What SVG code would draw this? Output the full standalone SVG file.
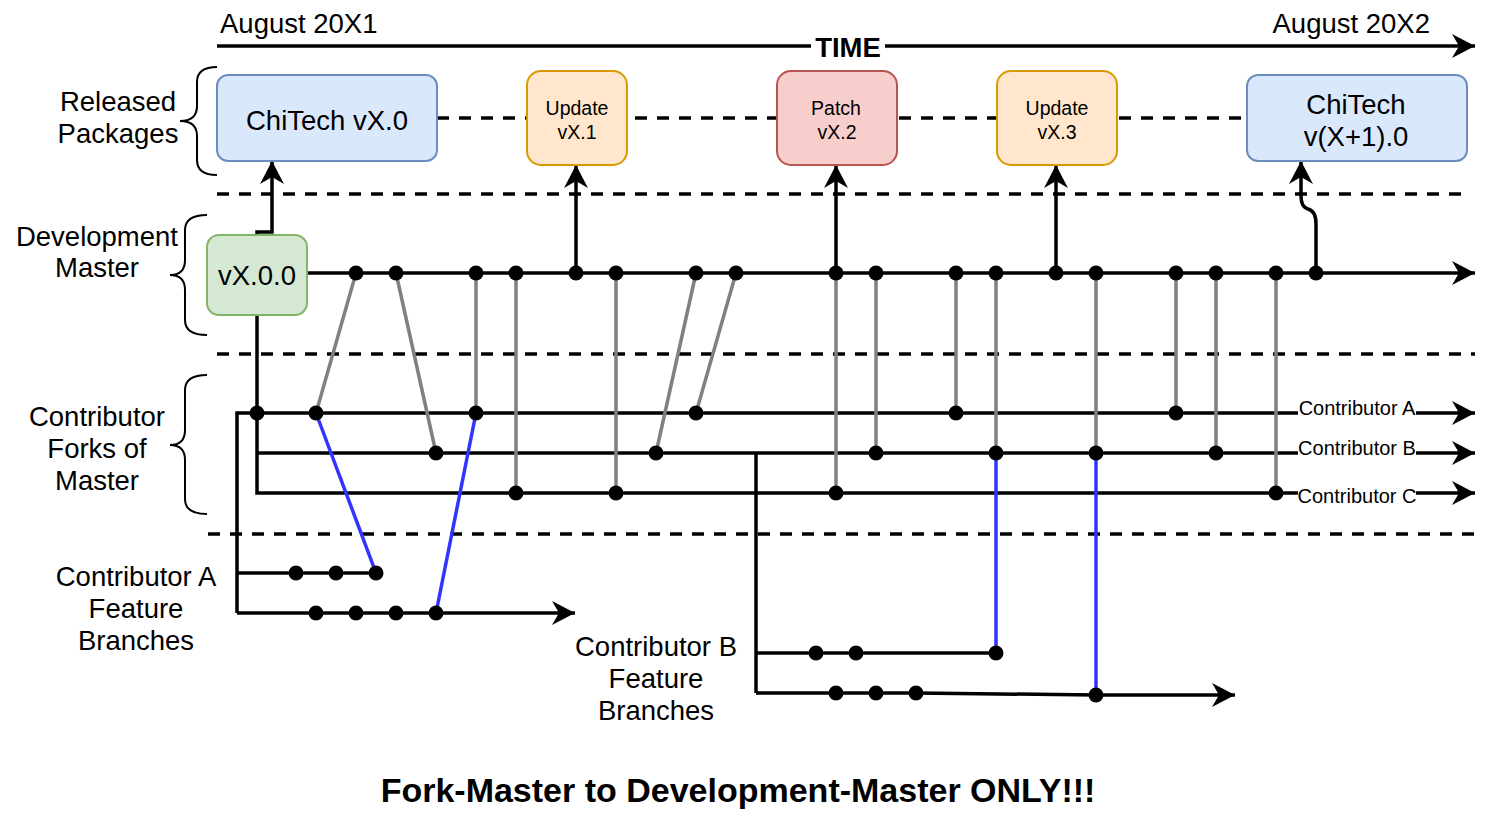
<svg xmlns="http://www.w3.org/2000/svg" width="1500" height="830" viewBox="0 0 1500 830">
<style>
text{font-family:"Liberation Sans",Arial,sans-serif;fill:#000}
.t27{font-size:27.5px}
.t19{font-size:19.5px}
.lbl{font-size:20px}
.b{font-weight:bold}
.mid{text-anchor:middle}
.ln{stroke:#000;stroke-width:3.5;fill:none}
.gr{stroke:#808080;stroke-width:3.5;fill:none}
.bl{stroke:#3333ff;stroke-width:3.5;fill:none}
.ds{stroke:#000;stroke-width:3.5;fill:none;stroke-dasharray:12 10}
.br{stroke:#000;stroke-width:2;fill:none}
.dot{fill:#000}
.blue{fill:#dae8fc;stroke:#6c8ebf;stroke-width:2}
.orange{fill:#ffe6cc;stroke:#d79b00;stroke-width:2}
.red{fill:#f8cecc;stroke:#b85450;stroke-width:2}
.green{fill:#d5e8d4;stroke:#82b366;stroke-width:2}
</style>
<defs>
<marker id="arr" markerUnits="userSpaceOnUse" markerWidth="24" markerHeight="26" refX="23" refY="12" orient="auto">
<path d="M0,0 L23,12 L0,24 L7,12 Z" fill="#000"/>
</marker>
</defs>
<rect width="1500" height="830" fill="#fff"/>

<!-- separators -->
<g id="separators">
<line class="ds" x1="437" y1="118" x2="1247" y2="118"/>
<line class="ds" x1="217" y1="194" x2="1467" y2="194"/>
<line class="ds" x1="217" y1="354" x2="1475" y2="354"/>
<line class="ds" x1="208" y1="534" x2="1475" y2="534"/>
</g>

<!-- time axis -->
<g id="time">
<line class="ln" x1="217" y1="46" x2="1475" y2="46" marker-end="url(#arr)"/>
<rect x="811" y="34" width="74" height="26" fill="#fff"/>
<text class="t27 b mid" x="848" y="57">TIME</text>
<text class="t27" x="220" y="33">August 20X1</text>
<text class="t27" x="1430" y="33" text-anchor="end">August 20X2</text>
</g>

<!-- braces and row labels -->
<g id="label-released">
<path class="br" d="M217,67 Q197,67 197,82 L197,106 Q197,121 180,121 Q197,121 197,136 L197,160 Q197,175 217,175"/>
<text class="t27 mid" x="118" y="111">Released</text>
<text class="t27 mid" x="118" y="143">Packages</text>
</g>
<g id="label-dev">
<path class="br" d="M207,215 Q185,215 185,230 L185,260 Q185,275 170,275 Q185,275 185,290 L185,320 Q185,335 207,335"/>
<text class="t27 mid" x="97" y="246">Development</text>
<text class="t27 mid" x="97" y="277">Master</text>
</g>
<g id="label-forks">
<path class="br" d="M207,375 Q185,375 185,390 L185,430 Q185,445 170,445 Q185,445 185,460 L185,499 Q185,514 207,514"/>
<text class="t27 mid" x="97" y="426">Contributor</text>
<text class="t27 mid" x="97" y="458">Forks of</text>
<text class="t27 mid" x="97" y="490">Master</text>
</g>
<g id="label-featA">
<text class="t27 mid" x="136" y="586">Contributor A</text>
<text class="t27 mid" x="136" y="618">Feature</text>
<text class="t27 mid" x="136" y="650">Branches</text>
</g>
<g id="label-featB">
<text class="t27 mid" x="656" y="656">Contributor B</text>
<text class="t27 mid" x="656" y="688">Feature</text>
<text class="t27 mid" x="656" y="720">Branches</text>
</g>

<!-- connectors -->
<g id="connectors">
<!-- development master -->
<line class="ln" x1="307" y1="273" x2="1475" y2="273" marker-end="url(#arr)"/>
<!-- release arrows -->
<path class="ln" d="M257,235 L257,232 L272,232 L272,161" marker-end="url(#arr)"/>
<line class="ln" x1="576" y1="273" x2="576" y2="165" marker-end="url(#arr)"/>
<line class="ln" x1="836" y1="273" x2="836" y2="165" marker-end="url(#arr)"/>
<line class="ln" x1="1056" y1="273" x2="1056" y2="165" marker-end="url(#arr)"/>
<path class="ln" d="M1316,273 L1316,224 Q1316,211 1308,209 Q1301,207 1301,196 L1301,161" marker-end="url(#arr)"/>
<!-- forks -->
<path class="ln" d="M257,315 L257,493 L1475,493" marker-end="url(#arr)"/>
<line class="ln" x1="257" y1="453" x2="1475" y2="453" marker-end="url(#arr)"/>
<path class="ln" d="M237,613 L237,413 L1475,413" marker-end="url(#arr)"/>
<!-- contributor A feature branches -->
<path class="ln" d="M237,573 L376,573"/>
<path class="ln" d="M237,613 L575,613" marker-end="url(#arr)"/>
<!-- contributor B feature branches -->
<path class="ln" d="M756,453 L756,693"/>
<path class="ln" d="M756,653 L996,653"/>
<path class="ln" d="M756,693 L916,693 L1096,695 L1235,695" marker-end="url(#arr)"/>
<!-- merges (gray) -->
<line class="gr" x1="356" y1="273" x2="316" y2="413"/>
<line class="gr" x1="396" y1="273" x2="436" y2="453"/>
<line class="gr" x1="476" y1="273" x2="476" y2="413"/>
<line class="gr" x1="516" y1="273" x2="516" y2="493"/>
<line class="gr" x1="616" y1="273" x2="616" y2="493"/>
<line class="gr" x1="696" y1="273" x2="656" y2="453"/>
<line class="gr" x1="736" y1="273" x2="696" y2="413"/>
<line class="gr" x1="836" y1="273" x2="836" y2="493"/>
<line class="gr" x1="876" y1="273" x2="876" y2="453"/>
<line class="gr" x1="956" y1="273" x2="956" y2="413"/>
<line class="gr" x1="996" y1="273" x2="996" y2="453"/>
<line class="gr" x1="1096" y1="273" x2="1096" y2="453"/>
<line class="gr" x1="1176" y1="273" x2="1176" y2="413"/>
<line class="gr" x1="1216" y1="273" x2="1216" y2="453"/>
<line class="gr" x1="1276" y1="273" x2="1276" y2="493"/>
<!-- feature merges (blue) -->
<line class="bl" x1="316" y1="413" x2="376" y2="573"/>
<line class="bl" x1="476" y1="413" x2="436" y2="613"/>
<line class="bl" x1="996" y1="453" x2="996" y2="653"/>
<line class="bl" x1="1096" y1="453" x2="1096" y2="694"/>
</g>

<!-- commit dots -->
<g id="commits" class="dot">
<circle cx="356" cy="273" r="7.5"/><circle cx="396" cy="273" r="7.5"/><circle cx="476" cy="273" r="7.5"/><circle cx="516" cy="273" r="7.5"/>
<circle cx="576" cy="273" r="7.5"/><circle cx="616" cy="273" r="7.5"/><circle cx="696" cy="273" r="7.5"/><circle cx="736" cy="273" r="7.5"/>
<circle cx="836" cy="273" r="7.5"/><circle cx="876" cy="273" r="7.5"/><circle cx="956" cy="273" r="7.5"/><circle cx="996" cy="273" r="7.5"/>
<circle cx="1056" cy="273" r="7.5"/><circle cx="1096" cy="273" r="7.5"/><circle cx="1176" cy="273" r="7.5"/><circle cx="1216" cy="273" r="7.5"/>
<circle cx="1276" cy="273" r="7.5"/><circle cx="1316" cy="273" r="7.5"/>
<circle cx="257" cy="413" r="7.5"/><circle cx="316" cy="413" r="7.5"/><circle cx="476" cy="413" r="7.5"/><circle cx="696" cy="413" r="7.5"/>
<circle cx="956" cy="413" r="7.5"/><circle cx="1176" cy="413" r="7.5"/>
<circle cx="436" cy="453" r="7.5"/><circle cx="656" cy="453" r="7.5"/><circle cx="876" cy="453" r="7.5"/><circle cx="996" cy="453" r="7.5"/>
<circle cx="1096" cy="453" r="7.5"/><circle cx="1216" cy="453" r="7.5"/>
<circle cx="516" cy="493" r="7.5"/><circle cx="616" cy="493" r="7.5"/><circle cx="836" cy="493" r="7.5"/><circle cx="1276" cy="493" r="7.5"/>
<circle cx="296" cy="573" r="7.5"/><circle cx="336" cy="573" r="7.5"/><circle cx="376" cy="573" r="7.5"/>
<circle cx="316" cy="613" r="7.5"/><circle cx="356" cy="613" r="7.5"/><circle cx="396" cy="613" r="7.5"/><circle cx="436" cy="613" r="7.5"/>
<circle cx="816" cy="653" r="7.5"/><circle cx="856" cy="653" r="7.5"/><circle cx="996" cy="653" r="7.5"/>
<circle cx="836" cy="693" r="7.5"/><circle cx="876" cy="693" r="7.5"/><circle cx="916" cy="693" r="7.5"/><circle cx="1096" cy="695" r="7.5"/>
</g>

<!-- contributor line labels -->
<g id="contrib-labels">
<rect x="1298" y="399" width="118" height="20" fill="#fff"/>
<text class="lbl mid" x="1357" y="415">Contributor A</text>
<rect x="1298" y="439" width="118" height="20" fill="#fff"/>
<text class="lbl mid" x="1357" y="455">Contributor B</text>
<rect x="1298" y="486" width="118" height="20" fill="#fff"/>
<text class="lbl mid" x="1357" y="503">Contributor C</text>
</g>

<!-- nodes -->
<g id="node-chitech-x0">
<rect class="blue" x="217" y="75" width="220" height="86" rx="11"/>
<text class="t27 mid" x="327" y="130">ChiTech vX.0</text>
</g>
<g id="node-update-x1">
<rect class="orange" x="527" y="71" width="100" height="94" rx="14"/>
<text class="t19 mid" x="577" y="115">Update</text>
<text class="t19 mid" x="577" y="139">vX.1</text>
</g>
<g id="node-patch-x2">
<rect class="red" x="777" y="71" width="120" height="94" rx="14"/>
<text class="t19 mid" x="836" y="115">Patch</text>
<text class="t19 mid" x="837" y="139">vX.2</text>
</g>
<g id="node-update-x3">
<rect class="orange" x="997" y="71" width="120" height="94" rx="14"/>
<text class="t19 mid" x="1057" y="115">Update</text>
<text class="t19 mid" x="1057" y="139">vX.3</text>
</g>
<g id="node-chitech-x1">
<rect class="blue" x="1247" y="75" width="220" height="86" rx="11"/>
<text class="t27 mid" x="1356" y="114">ChiTech</text>
<text class="t27 mid" x="1356" y="146">v(X+1).0</text>
</g>
<g id="node-vx00">
<rect class="green" x="207" y="235" width="100" height="80" rx="12"/>
<text class="t27 mid" x="257" y="285">vX.0.0</text>
</g>

<g id="title">
<text class="b mid" x="738" y="802" font-size="34">Fork-Master to Development-Master ONLY!!!</text>
</g>
</svg>
